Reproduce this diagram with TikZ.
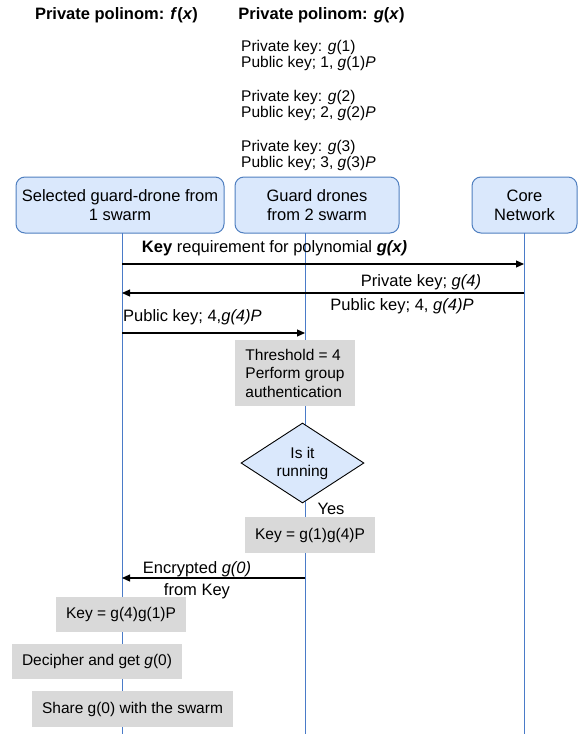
\documentclass[tikz,border=0pt]{standalone}
\usepackage{fontspec}
\setmainfont{Liberation Sans}
\usetikzlibrary{shapes.geometric,arrows.meta}
\definecolor{boxfill}{HTML}{DAE8FC}
\definecolor{boxline}{HTML}{4F7FC0}
\definecolor{lifecol}{HTML}{4A7BC8}
\definecolor{greyfill}{HTML}{D9D9D9}
\tikzset{
  actor/.style={draw=boxline, fill=boxfill, rounded corners=9pt, line width=1pt,
    minimum height=56pt, inner sep=0pt, align=center, font=\fontsize{16.5}{19}\selectfont},
  life/.style={draw=lifecol, line width=1pt},
  msg/.style={draw=black, line width=1.1pt, -{Triangle[length=8pt,width=7pt]}},
  lbl/.style={inner sep=0pt, font=\fontsize{16.5}{19}\selectfont},
  greybox/.style={fill=greyfill, inner sep=0pt, font=\fontsize{15.5}{18.5}\selectfont},
  keytxt/.style={anchor=west, inner sep=0pt, align=left, font=\fontsize{15.5}{16}\selectfont},
  headtxt/.style={inner sep=0pt, font=\bfseries\fontsize{16.5}{19}\selectfont},
  decision/.style={diamond, draw=black, fill=boxfill, line width=0.9pt, inner sep=0pt,
    aspect=1.54, minimum width=123pt, minimum height=80pt, align=center,
    font=\fontsize{15.5}{18}\selectfont}
}
\begin{document}
\begin{tikzpicture}[x=1pt,y=-1pt]
\useasboundingbox (0,0) rectangle (578,734);

% headers
\node[headtxt] (hf) at (116.5,15) {Private polinom: \textit{f}(\textit{x})};
\node[headtxt] (hg) at (321.5,15) {Private polinom: \textit{g}(\textit{x})};

% key lists
\node[keytxt] (k1) at (241,55) {Private key: \textit{g}(1)\\Public key; 1, \textit{g}(1)\textit{P}};
\node[keytxt] (k2) at (241,105) {Private key: \textit{g}(2)\\Public key; 2, \textit{g}(2)\textit{P}};
\node[keytxt] (k3) at (241,155) {Private key: \textit{g}(3)\\Public key; 3, \textit{g}(3)\textit{P}};

% actors
\node[actor, minimum width=208pt] (a1) at (120,205) {Selected guard-drone from\\1 swarm};
\node[actor, minimum width=164pt] (a2) at (317,205) {Guard drones\\from 2 swarm};
\node[actor, minimum width=105pt] (a3) at (524.5,205) {Core\\Network};

% lifelines
\coordinate (l1t) at (122,233);
\coordinate (l1b) at (122,734);
\coordinate (l2t) at (305,233);
\coordinate (l2b) at (305,734);
\coordinate (l3t) at (524,233);
\coordinate (l3b) at (524,734);
\draw[life] (l1t) -- (l1b);
\draw[life] (l2t) -- (l2b);
\draw[life] (l3t) -- (l3b);

% message end points on lifelines
\coordinate (m1s) at (122,264);
\coordinate (m1e) at (524,264);
\coordinate (m2s) at (524,293);
\coordinate (m2e) at (122,293);
\coordinate (m3s) at (122,333);
\coordinate (m3e) at (305,333);
\coordinate (m4s) at (305,578);
\coordinate (m4e) at (122,578);

\draw[msg] (m1s) -- (m1e);
\draw[msg] (m2s) -- (m2e);
\draw[msg] (m3s) -- (m3e);
\draw[msg] (m4s) -- (m4e);

% message labels
\node[lbl] (t1) at (274.5,248) {\textbf{Key} requirement for polynomial \textbf{\textit{g(x)}}};
\node[lbl] (t2a) at (421,282) {Private key; \textit{g(4)}};
\node[lbl] (t2b) at (402,306) {Public key; 4, \textit{g(4)P}};
\node[lbl, anchor=west] (t3) at (123,317) {Public key; 4,\textit{g(4)P}};
\node[lbl] (t4a) at (197,569) {Encrypted \textit{g(0)}};
\node[lbl] (t4b) at (197,591) {from Key};

% process boxes
\node[greybox, minimum width=120pt, minimum height=66pt, align=left] (g1) at (295,373)
  {Threshold = 4\\Perform group\\authentication};
\node[decision] (d1) at (302.5,463) {Is it\\running};
\node[lbl] (yes) at (331,509) {Yes};
\node[greybox, minimum width=130pt, minimum height=36pt] (g2) at (310,535) {Key = g(1)g(4)P};
\node[greybox, minimum width=130pt, minimum height=35pt] (g3) at (121,614.5) {Key = g(4)g(1)P};
\node[greybox, minimum width=170pt, minimum height=35pt] (g4) at (97,661.5) {Decipher and get \textit{g}(0)};
\node[greybox, minimum width=201pt, minimum height=36pt] (g5) at (132.5,709) {Share g(0) with the swarm};
\end{tikzpicture}
\end{document}
